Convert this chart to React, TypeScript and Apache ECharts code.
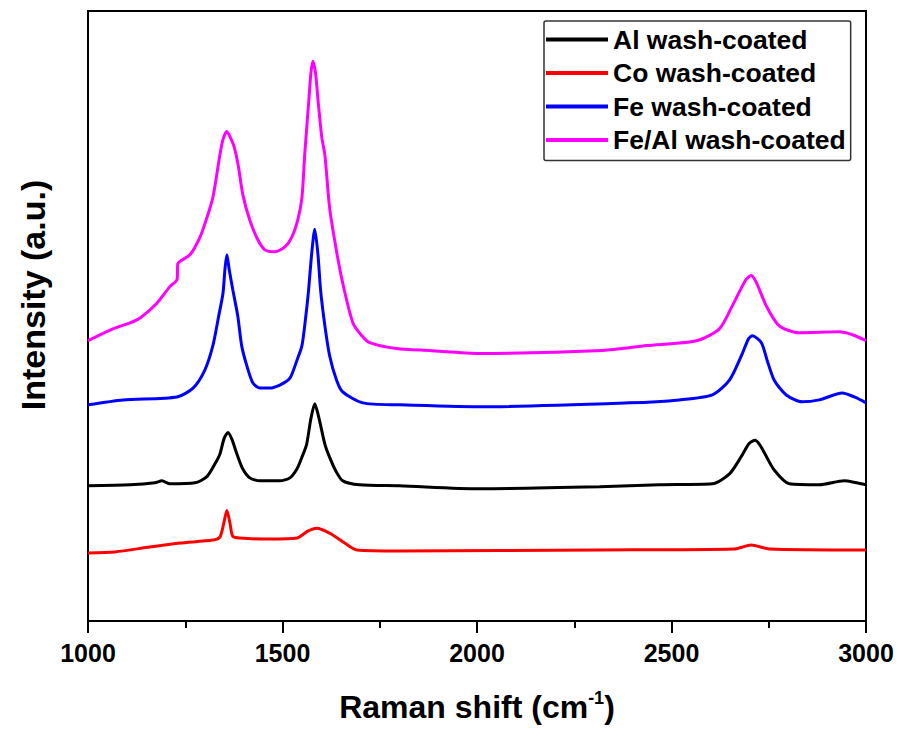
import React, { useEffect, useRef } from "react";
import * as echarts from "echarts";

// Raman shift (cm-1) / relative intensity (offset, arbitrary units)
const alData: [number, number][] = [
  [1000, 137], [1108, 138], [1172, 140], [1190, 142], [1211, 139], [1275, 140],
  [1305, 146], [1326, 159], [1339, 169], [1350, 185], [1360, 191], [1370, 184],
  [1383, 169], [1398, 154], [1416, 145], [1442, 142], [1493, 142], [1519, 145],
  [1537, 154], [1550, 166], [1562, 179], [1573, 205], [1583, 220], [1594, 205],
  [1609, 179], [1621, 166], [1637, 152], [1655, 142], [1698, 138], [1801, 137],
  [2007, 134], [2315, 136], [2469, 138], [2605, 139], [2649, 149], [2680, 167],
  [2700, 180], [2715, 183], [2726, 179], [2738, 171], [2764, 153], [2803, 139],
  [2880, 138], [2944, 142], [2975, 140], [3000, 138],
];

const coData: [number, number][] = [
  [1000, 69], [1069, 70], [1159, 75], [1236, 79], [1321, 82], [1339, 85],
  [1349, 99], [1357, 112], [1365, 99], [1372, 86], [1390, 84], [1467, 83],
  [1537, 84], [1565, 91], [1588, 94], [1621, 89], [1660, 79], [1691, 72],
  [1801, 71], [2315, 72], [2662, 73], [2705, 77], [2751, 73], [3000, 72],
];

const feData: [number, number][] = [
  [1000, 219], [1090, 224], [1229, 227], [1270, 236], [1300, 254], [1321, 279],
  [1336, 309], [1347, 332], [1352, 356], [1357, 371], [1363, 356], [1372, 336],
  [1385, 309], [1395, 279], [1408, 259], [1424, 241], [1442, 236], [1467, 236],
  [1493, 239], [1519, 246], [1537, 264], [1550, 279], [1560, 309], [1567, 335],
  [1575, 372], [1583, 397], [1591, 372], [1598, 335], [1609, 299], [1621, 269],
  [1639, 244], [1655, 232], [1706, 221], [1801, 219], [2007, 217], [2392, 221],
  [2520, 224], [2605, 229], [2649, 244], [2680, 269], [2698, 286], [2708, 289],
  [2731, 282], [2746, 264], [2764, 244], [2795, 229], [2836, 222], [2880, 224],
  [2939, 231], [2970, 227], [3000, 221],
];

const feAlData: [number, number][] = [
  [1000, 284], [1064, 296], [1108, 302], [1134, 307], [1177, 322], [1211, 339],
  [1229, 346], [1231, 362], [1262, 371], [1288, 389], [1306, 409], [1321, 429],
  [1339, 472], [1347, 488], [1357, 496], [1367, 489], [1376, 480], [1386, 462],
  [1398, 432], [1416, 406], [1437, 386], [1455, 376], [1480, 374], [1506, 379],
  [1524, 389], [1539, 406], [1550, 429], [1557, 472], [1568, 529], [1573, 555],
  [1578, 567], [1585, 555], [1591, 529], [1601, 490], [1609, 472], [1621, 419],
  [1637, 379], [1655, 342], [1681, 302], [1704, 289], [1724, 282], [1793, 276],
  [1878, 274], [2007, 271], [2323, 274], [2436, 279], [2564, 284], [2623, 296],
  [2656, 319], [2690, 345], [2705, 350], [2718, 343], [2744, 319], [2777, 299],
  [2828, 292], [2931, 293], [2965, 290], [3000, 284],
];

const seriesNames = ["Al wash-coated", "Co wash-coated", "Fe wash-coated", "Fe/Al wash-coated"];
const seriesColors = ["#000000", "#ff0000", "#0000ff", "#ff00ff"];
const seriesData = [alData, coData, feData, feAlData];

const FONT = "'Liberation Sans', Arial, sans-serif";

export default function App() {
  const ref = useRef<HTMLDivElement>(null);
  useEffect(() => {
    if (!ref.current) return;
    const chart = echarts.init(ref.current, undefined, { renderer: "svg" });
    chart.setOption({
      animation: false,
      backgroundColor: "#ffffff",
      grid: {
        left: 88,
        right: 32,
        top: 11,
        bottom: 101,
        show: true,
        borderColor: "#000",
        borderWidth: 2,
        backgroundColor: "transparent",
      },
      legend: {
        orient: "vertical",
        left: 544,
        top: 21,
        data: seriesNames,
        icon: "rect",
        itemWidth: 62,
        itemHeight: 4,
        itemGap: 6.5,
        padding: [5, 5, 7, 2],
        borderColor: "#333",
        borderWidth: 1.5,
        borderRadius: 2,
        textStyle: {
          fontFamily: FONT,
          fontWeight: "bold",
          fontSize: 26.5,
          lineHeight: 26,
          color: "#000",
        },
      },
      xAxis: {
        type: "value",
        min: 1000,
        max: 3000,
        interval: 500,
        name: "Raman shift (cm{sup|-1})",
        nameLocation: "middle",
        nameGap: 68,
        nameTextStyle: {
          fontFamily: FONT,
          fontWeight: "bold",
          fontSize: 32,
          color: "#000",
          lineHeight: 36,
          rich: {
            sup: {
              fontFamily: FONT,
              fontWeight: "bold",
              fontSize: 18,
              verticalAlign: "top",
              lineHeight: 36,
              padding: [0, 0, 14, 0],
              color: "#000",
            },
          },
        },
        axisLine: { show: true, lineStyle: { color: "#000", width: 2 } },
        axisTick: { show: true, inside: false, length: 12, lineStyle: { color: "#000", width: 2 } },
        minorTick: { show: true, splitNumber: 2, length: 7, lineStyle: { color: "#000", width: 2 } },
        splitLine: { show: false },
        axisLabel: {
          margin: 19,
          fontFamily: FONT,
          fontWeight: "bold",
          fontSize: 25,
          color: "#000",
          formatter: (v: number) => String(v),
        },
      },
      yAxis: {
        type: "value",
        min: 0,
        max: 618,
        name: "Intensity (a.u.)",
        nameLocation: "middle",
        nameGap: 38,
        nameRotate: 90,
        nameTextStyle: {
          fontFamily: FONT,
          fontWeight: "bold",
          fontSize: 34,
          color: "#000",
          padding: [0, 0, 0, 42],
        },
        axisLine: { show: true, lineStyle: { color: "#000", width: 2 } },
        axisTick: { show: false },
        axisLabel: { show: false },
        splitLine: { show: false },
      },
      series: seriesNames.map((name, i) => ({
        name,
        type: "line",
        data: seriesData[i],
        showSymbol: false,
        symbol: "none",
        smooth: 0.25,
        lineStyle: { color: seriesColors[i], width: 3 },
        itemStyle: { color: seriesColors[i] },
        z: 4 - i,
      })),
    });
    return () => chart.dispose();
  }, []);
  return (
    <div
      ref={ref}
      style={{ position: "fixed", left: 0, top: 0, width: 898, height: 730, background: "#fff" }}
    />
  );
}
